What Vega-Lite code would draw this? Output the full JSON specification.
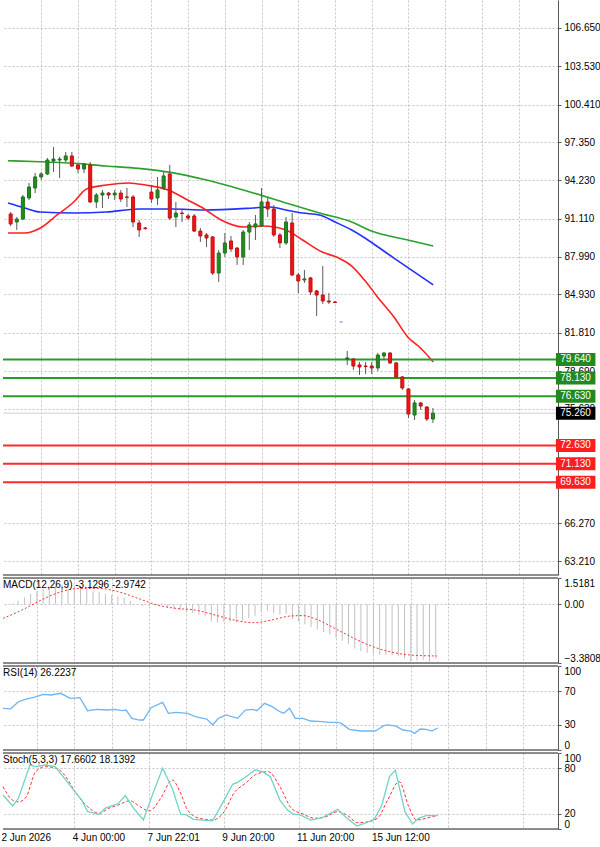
{
  "$schema": "https://vega.github.io/schema/vega-lite/v6.json",
  "padding": 0,
  "background": "#ffffff",
  "spacing": 3,
  "bounds": "flush",
  "datasets": {
    "candles": [
      {"i":0,"o":91.49,"h":91.65,"l":90.51,"c":90.68},
      {"i":1,"o":90.84,"h":91.25,"l":90.19,"c":91.08},
      {"i":2,"o":91.08,"h":93.04,"l":91.00,"c":92.88},
      {"i":3,"o":92.80,"h":94.02,"l":92.63,"c":93.69},
      {"i":4,"o":93.61,"h":94.83,"l":93.20,"c":94.51},
      {"i":5,"o":94.51,"h":94.91,"l":94.26,"c":94.75},
      {"i":6,"o":94.75,"h":96.06,"l":94.67,"c":95.89},
      {"i":7,"o":95.81,"h":96.95,"l":94.91,"c":95.97},
      {"i":8,"o":95.89,"h":96.14,"l":94.42,"c":95.97},
      {"i":9,"o":95.89,"h":96.54,"l":95.73,"c":96.22},
      {"i":10,"o":96.22,"h":96.54,"l":95.32,"c":95.40},
      {"i":11,"o":95.49,"h":95.57,"l":94.83,"c":95.16},
      {"i":12,"o":95.16,"h":95.65,"l":94.83,"c":95.57},
      {"i":13,"o":95.49,"h":95.73,"l":92.39,"c":92.47},
      {"i":14,"o":92.47,"h":93.20,"l":91.98,"c":93.04},
      {"i":15,"o":93.04,"h":93.45,"l":91.98,"c":93.20},
      {"i":16,"o":93.20,"h":93.28,"l":92.71,"c":93.04},
      {"i":17,"o":93.04,"h":93.45,"l":92.63,"c":93.20},
      {"i":18,"o":93.20,"h":93.45,"l":92.47,"c":92.71},
      {"i":19,"o":92.88,"h":93.61,"l":92.06,"c":92.84},
      {"i":20,"o":92.88,"h":93.04,"l":90.43,"c":90.84},
      {"i":21,"o":90.76,"h":91.00,"l":89.62,"c":90.19},
      {"i":22,"o":90.35,"h":90.43,"l":90.19,"c":90.31},
      {"i":23,"o":93.28,"h":93.85,"l":92.39,"c":92.71},
      {"i":24,"o":92.80,"h":94.51,"l":92.22,"c":93.45},
      {"i":25,"o":93.61,"h":94.91,"l":93.45,"c":94.59},
      {"i":26,"o":94.75,"h":95.49,"l":91.00,"c":91.16},
      {"i":27,"o":91.25,"h":92.47,"l":90.43,"c":91.57},
      {"i":28,"o":91.57,"h":91.82,"l":90.84,"c":91.53},
      {"i":29,"o":91.33,"h":91.49,"l":91.00,"c":91.16},
      {"i":30,"o":91.33,"h":91.49,"l":90.02,"c":90.10},
      {"i":31,"o":90.10,"h":90.35,"l":89.21,"c":89.70},
      {"i":32,"o":89.78,"h":89.94,"l":88.80,"c":89.54},
      {"i":33,"o":89.62,"h":89.70,"l":86.52,"c":86.68},
      {"i":34,"o":86.68,"h":88.56,"l":85.95,"c":88.31},
      {"i":35,"o":88.31,"h":89.94,"l":87.99,"c":89.13},
      {"i":36,"o":89.29,"h":89.70,"l":88.39,"c":88.64},
      {"i":37,"o":88.72,"h":88.80,"l":87.34,"c":87.99},
      {"i":38,"o":87.99,"h":90.19,"l":87.34,"c":90.02},
      {"i":39,"o":90.02,"h":90.84,"l":88.56,"c":90.60},
      {"i":40,"o":90.43,"h":91.41,"l":89.37,"c":90.68},
      {"i":41,"o":90.51,"h":93.61,"l":90.43,"c":92.47},
      {"i":42,"o":92.47,"h":92.80,"l":91.25,"c":91.90},
      {"i":43,"o":91.90,"h":92.22,"l":89.62,"c":89.78},
      {"i":44,"o":89.78,"h":89.94,"l":88.72,"c":89.13},
      {"i":45,"o":89.13,"h":91.25,"l":88.97,"c":90.84},
      {"i":46,"o":90.76,"h":91.57,"l":86.44,"c":86.52},
      {"i":47,"o":86.52,"h":86.68,"l":85.05,"c":86.03},
      {"i":48,"o":86.11,"h":86.93,"l":85.87,"c":86.20},
      {"i":49,"o":86.28,"h":86.36,"l":84.89,"c":85.14},
      {"i":50,"o":85.22,"h":85.30,"l":83.18,"c":84.89},
      {"i":51,"o":84.89,"h":87.25,"l":84.16,"c":84.40},
      {"i":52,"o":84.40,"h":85.05,"l":84.16,"c":84.32},
      {"i":53,"o":84.32,"h":84.40,"l":84.24,"c":84.28},
      {"i":55,"o":79.67,"h":80.33,"l":79.19,"c":79.76},
      {"i":56,"o":79.67,"h":79.76,"l":78.78,"c":79.10},
      {"i":57,"o":79.19,"h":79.43,"l":78.37,"c":79.02},
      {"i":58,"o":79.10,"h":79.43,"l":78.45,"c":79.06},
      {"i":59,"o":79.10,"h":79.43,"l":78.45,"c":78.94},
      {"i":60,"o":78.94,"h":80.16,"l":78.70,"c":80.00},
      {"i":61,"o":79.92,"h":80.24,"l":79.59,"c":80.16},
      {"i":62,"o":80.16,"h":80.24,"l":79.27,"c":79.35},
      {"i":63,"o":79.35,"h":79.43,"l":78.13,"c":78.21},
      {"i":64,"o":78.21,"h":78.29,"l":77.15,"c":77.31},
      {"i":65,"o":77.23,"h":77.31,"l":74.86,"c":75.19},
      {"i":66,"o":75.11,"h":76.33,"l":74.70,"c":76.09},
      {"i":67,"o":76.09,"h":76.17,"l":75.52,"c":75.84},
      {"i":68,"o":75.76,"h":75.84,"l":74.62,"c":74.78},
      {"i":69,"o":74.78,"h":75.68,"l":74.46,"c":75.26}
    ],
    "ma": [
      {"ma":"g","i":-0.433,"p":95.83},{"ma":"g","i":4.86,"p":95.75},{"ma":"g","i":10.32,"p":95.62},{"ma":"g","i":15.61,"p":95.40},{"ma":"g","i":20.91,"p":95.21},{"ma":"g","i":26.36,"p":94.86},{"ma":"g","i":31.66,"p":94.30},{"ma":"g","i":39.68,"p":93.20},{"ma":"g","i":44.98,"p":92.39},{"ma":"g","i":50.43,"p":91.57},{"ma":"g","i":55.73,"p":90.84},{"ma":"g","i":58.94,"p":90.10},{"ma":"g","i":64.9,"p":89.37},{"ma":"g","i":69.05,"p":88.88},
      {"ma":"b","i":-0.433,"p":92.39},{"ma":"b","i":2.29,"p":91.98},{"ma":"b","i":4.86,"p":91.65},{"ma":"b","i":10.32,"p":91.57},{"ma":"b","i":15.61,"p":91.65},{"ma":"b","i":20.91,"p":91.90},{"ma":"b","i":26.36,"p":91.90},{"ma":"b","i":31.66,"p":91.82},{"ma":"b","i":39.68,"p":91.98},{"ma":"b","i":42.41,"p":92.06},{"ma":"b","i":44.98,"p":91.82},{"ma":"b","i":47.7,"p":91.57},{"ma":"b","i":50.43,"p":91.41},{"ma":"b","i":53.0,"p":90.84},{"ma":"b","i":55.73,"p":90.19},{"ma":"b","i":62.63,"p":87.90},{"ma":"b","i":69.05,"p":85.71},
      {"ma":"r","i":-0.433,"p":89.94},{"ma":"r","i":2.29,"p":89.94},{"ma":"r","i":4.86,"p":90.35},{"ma":"r","i":7.59,"p":91.41},{"ma":"r","i":10.32,"p":92.47},{"ma":"r","i":12.4,"p":93.53},{"ma":"r","i":15.61,"p":93.85},{"ma":"r","i":19.3,"p":94.02},{"ma":"r","i":22.03,"p":93.85},{"ma":"r","i":25.72,"p":93.45},{"ma":"r","i":28.93,"p":92.63},{"ma":"r","i":31.66,"p":91.90},{"ma":"r","i":34.39,"p":91.00},{"ma":"r","i":38.08,"p":90.43},{"ma":"r","i":41.29,"p":90.51},{"ma":"r","i":44.98,"p":90.19},{"ma":"r","i":47.7,"p":89.37},{"ma":"r","i":50.91,"p":88.39},{"ma":"r","i":53.64,"p":87.90},{"ma":"r","i":55.73,"p":87.25},{"ma":"r","i":57.82,"p":86.11},{"ma":"r","i":60.06,"p":84.65},{"ma":"r","i":62.63,"p":83.10},{"ma":"r","i":64.88,"p":81.47},{"ma":"r","i":66.97,"p":80.57},{"ma":"r","i":69.05,"p":79.43}
    ],
    "levels": [
      {"p":79.64,"k":"g"},{"p":78.13,"k":"g"},{"p":76.63,"k":"g"},
      {"p":72.63,"k":"r"},{"p":71.13,"k":"r"},{"p":69.63,"k":"r"}
    ],
    "tags": [
      {"p":79.64,"k":"g"},{"p":78.13,"k":"g"},{"p":76.63,"k":"g"},{"p":75.26,"k":"b"},
      {"p":72.63,"k":"r"},{"p":71.13,"k":"r"},{"p":69.63,"k":"r"}
    ],
    "bid": [{"p":75.26}],
    "blip": [{"i":54,"p":82.69}],
    "macd": [
      {"i":0,"m":-0.05},{"i":1,"m":0.05},{"i":2,"m":0.2},{"i":3,"m":0.4},{"i":4,"m":0.6},{"i":5,"m":0.75},{"i":6,"m":0.9},{"i":7,"m":1.0},{"i":8,"m":1.05},{"i":9,"m":1.1},
      {"i":10,"m":1.1},{"i":11,"m":1.05},{"i":12,"m":1.05},{"i":13,"m":0.85},{"i":14,"m":0.75},{"i":15,"m":0.7},{"i":16,"m":0.6},{"i":17,"m":0.55},{"i":18,"m":0.45},{"i":19,"m":0.4},
      {"i":20,"m":0.2},{"i":21,"m":0.0},{"i":22,"m":-0.1},{"i":23,"m":-0.1},{"i":24,"m":-0.05},{"i":25,"m":0.05},{"i":26,"m":-0.2},{"i":27,"m":-0.3},{"i":28,"m":-0.35},{"i":29,"m":-0.4},
      {"i":30,"m":-0.5},{"i":31,"m":-0.6},{"i":32,"m":-0.7},{"i":33,"m":-1.0},{"i":34,"m":-1.05},{"i":35,"m":-1.0},{"i":36,"m":-1.0},{"i":37,"m":-1.05},{"i":38,"m":-0.95},{"i":39,"m":-0.8},
      {"i":40,"m":-0.65},{"i":41,"m":-0.4},{"i":42,"m":-0.35},{"i":43,"m":-0.5},{"i":44,"m":-0.6},{"i":45,"m":-0.55},{"i":46,"m":-0.85},{"i":47,"m":-1.0},{"i":48,"m":-1.15},{"i":49,"m":-1.3},
      {"i":50,"m":-1.45},{"i":51,"m":-1.6},{"i":52,"m":-1.75},{"i":53,"m":-1.95},{"i":54,"m":-2.1},{"i":55,"m":-2.3},{"i":56,"m":-2.55},{"i":57,"m":-2.7},{"i":58,"m":-2.8},{"i":59,"m":-2.85},
      {"i":60,"m":-2.9},{"i":61,"m":-2.9},{"i":62,"m":-2.95},{"i":63,"m":-3.0},{"i":64,"m":-3.1},{"i":65,"m":-3.3},{"i":66,"m":-3.25},{"i":67,"m":-3.2},{"i":68,"m":-3.3},{"i":69,"m":-3.1296}
    ],
    "signal": [
      {"i":-0.433,"s":-0.81},{"i":2.6,"s":-0.33},{"i":5.7,"s":0.25},{"i":8.9,"s":0.73},{"i":11.9,"s":0.92},{"i":15.0,"s":0.92},{"i":18.0,"s":0.73},{"i":21.2,"s":0.35},{"i":24.3,"s":-0.04},{"i":27.3,"s":-0.23},{"i":30.4,"s":-0.33},{"i":33.6,"s":-0.62},{"i":36.6,"s":-0.9},{"i":39.7,"s":-1.06},{"i":42.7,"s":-0.9},{"i":45.8,"s":-0.67},{"i":47.7,"s":-0.65},{"i":50.1,"s":-0.9},{"i":53.3,"s":-1.48},{"i":56.4,"s":-2.05},{"i":59.4,"s":-2.5},{"i":62.5,"s":-2.8},{"i":66.2,"s":-2.95},{"i":69.2,"s":-2.9742}
    ],
    "rsi": [
      {"i":-0.433,"v":49.6},{"i":0.8,"v":49.0},{"i":2.04,"v":57.5},{"i":3.27,"v":60.7},{"i":4.51,"v":62.7},{"i":6.05,"v":66.3},{"i":7.28,"v":65.5},{"i":8.82,"v":67.5},{"i":10.37,"v":61.5},{"i":11.91,"v":62.3},{"i":13.14,"v":46.8},{"i":14.68,"v":48.4},{"i":16.23,"v":47.6},{"i":17.46,"v":48.4},{"i":18.7,"v":46.8},{"i":19.32,"v":47.6},{"i":20.24,"v":37.7},{"i":21.47,"v":35.7},{"i":22.09,"v":35.7},{"i":23.33,"v":50.4},{"i":25.18,"v":56.7},{"i":26.1,"v":43.7},{"i":27.34,"v":44.8},{"i":29.19,"v":43.7},{"i":30.42,"v":39.7},{"i":32.27,"v":36.9},{"i":33.2,"v":29.8},{"i":34.13,"v":37.7},{"i":35.37,"v":41.7},{"i":37.21,"v":37.7},{"i":38.45,"v":47.6},{"i":39.68,"v":48.4},{"i":40.3,"v":46.8},{"i":41.53,"v":55.6},{"i":42.76,"v":51.6},{"i":44.0,"v":45.6},{"i":44.62,"v":43.7},{"i":45.54,"v":49.6},{"i":46.47,"v":37.7},{"i":47.7,"v":37.7},{"i":48.94,"v":34.5},{"i":50.79,"v":33.7},{"i":52.02,"v":32.9},{"i":53.26,"v":32.9},{"i":53.88,"v":31.7},{"i":55.12,"v":24.6},{"i":56.96,"v":22.6},{"i":58.81,"v":22.6},{"i":59.43,"v":23.0},{"i":60.67,"v":29.0},{"i":61.28,"v":29.8},{"i":62.52,"v":28.6},{"i":63.75,"v":23.8},{"i":64.99,"v":22.6},{"i":65.6,"v":19.8},{"i":66.53,"v":25.0},{"i":67.46,"v":24.6},{"i":68.38,"v":22.6},{"i":69.3,"v":26.2237}
    ],
    "stoch": [
      {"i":-0.433,"v":44.7},{"i":1.11,"v":30.3},{"i":2.04,"v":40.4},{"i":3.89,"v":84.2},{"i":4.81,"v":82.0},{"i":6.35,"v":84.2},{"i":7.9,"v":82.0},{"i":9.44,"v":66.7},{"i":11.3,"v":47.0},{"i":12.22,"v":38.0},{"i":13.14,"v":22.8},{"i":15.0,"v":19.3},{"i":15.92,"v":27.2},{"i":17.46,"v":31.6},{"i":18.08,"v":33.8},{"i":19.19,"v":43.9},{"i":20.55,"v":27.2},{"i":22.09,"v":11.8},{"i":23.64,"v":47.0},{"i":25.18,"v":79.8},{"i":26.72,"v":53.5},{"i":28.08,"v":19.3},{"i":28.88,"v":19.3},{"i":30.12,"v":12.7},{"i":31.66,"v":11.8},{"i":33.2,"v":10.9},{"i":35.06,"v":38.0},{"i":36.41,"v":58.8},{"i":37.21,"v":61.4},{"i":38.45,"v":68.0},{"i":39.99,"v":77.6},{"i":41.22,"v":75.4},{"i":42.46,"v":68.9},{"i":44.0,"v":38.0},{"i":45.23,"v":24.9},{"i":46.16,"v":19.3},{"i":47.09,"v":19.3},{"i":48.94,"v":11.8},{"i":50.79,"v":14.9},{"i":52.65,"v":22.8},{"i":53.26,"v":25.9},{"i":54.49,"v":16.2},{"i":56.34,"v":3.9},{"i":57.57,"v":7.5},{"i":59.13,"v":12.7},{"i":60.36,"v":31.6},{"i":61.59,"v":68.9},{"i":62.52,"v":77.6},{"i":64.06,"v":22.8},{"i":65.29,"v":6.6},{"i":66.22,"v":14.1},{"i":67.46,"v":17.5},{"i":69.3,"v":17.66}
    ],
    "stochsig": [
      {"i":-0.433,"v":55.7},{"i":1.11,"v":38.0},{"i":2.04,"v":35.7},{"i":3.27,"v":42.1},{"i":4.81,"v":75.4},{"i":6.35,"v":82.0},{"i":8.21,"v":79.8},{"i":9.44,"v":71.0},{"i":11.3,"v":47.0},{"i":13.14,"v":29.4},{"i":15.0,"v":20.6},{"i":16.54,"v":27.2},{"i":18.08,"v":31.6},{"i":19.93,"v":37.3},{"i":21.17,"v":31.6},{"i":23.02,"v":23.7},{"i":24.87,"v":40.4},{"i":26.72,"v":64.5},{"i":27.96,"v":49.1},{"i":29.19,"v":25.0},{"i":31.04,"v":14.1},{"i":33.2,"v":11.8},{"i":35.06,"v":22.8},{"i":36.6,"v":47.0},{"i":38.45,"v":60.1},{"i":40.3,"v":72.4},{"i":42.15,"v":75.4},{"i":44.0,"v":55.7},{"i":45.85,"v":27.2},{"i":47.7,"v":19.7},{"i":49.56,"v":14.1},{"i":51.41,"v":16.2},{"i":53.26,"v":22.8},{"i":55.12,"v":16.2},{"i":56.34,"v":8.3},{"i":58.2,"v":9.6},{"i":59.74,"v":14.9},{"i":61.28,"v":38.0},{"i":63.14,"v":62.3},{"i":64.68,"v":29.4},{"i":65.91,"v":11.8},{"i":67.46,"v":14.1},{"i":69.3,"v":18.14}
    ]
  },
  "vconcat": [
    {
      "width": 555,
      "height": 575,
      "layer": [
        {
          "data": {"name": "ma"},
          "transform": [{"filter": "datum.ma=='g'"}],
          "mark": {"type": "line", "color": "#2ca02c", "strokeWidth": 1.6, "interpolate": "monotone"},
          "encoding": {
            "x": {"field": "i", "type": "quantitative", "scale": {"domain": [-0.433, 88.62], "nice": false, "zero": false},
                  "axis": {"values": [5,11,17,23,29,35,41,47,53,59,65,71,77,83], "labels": false, "ticks": false, "domain": false, "grid": true, "title": null}},
            "y": {"field": "p", "type": "quantitative", "scale": {"domain": [62.07, 108.93], "nice": false, "zero": false},
                  "axis": {"orient": "right", "values": [106.65,103.53,100.41,97.35,94.23,91.11,87.99,84.93,81.81,78.69,75.63,66.27,63.21], "format": ".3f", "grid": true, "tickSize": 3, "labelPadding": 3, "labelOverlap": false, "title": null}}
          }
        },
        {
          "data": {"name": "ma"},
          "transform": [{"filter": "datum.ma=='b'"}],
          "mark": {"type": "line", "color": "#2030ff", "strokeWidth": 1.6, "interpolate": "monotone"},
          "encoding": {"x": {"field": "i", "type": "quantitative"}, "y": {"field": "p", "type": "quantitative"}}
        },
        {
          "data": {"name": "ma"},
          "transform": [{"filter": "datum.ma=='r'"}],
          "mark": {"type": "line", "color": "#ff2020", "strokeWidth": 1.6, "interpolate": "monotone"},
          "encoding": {"x": {"field": "i", "type": "quantitative"}, "y": {"field": "p", "type": "quantitative"}}
        },
        {
          "data": {"name": "bid"},
          "mark": {"type": "rule", "color": "#cfcfcf", "strokeWidth": 1},
          "encoding": {"y": {"field": "p", "type": "quantitative"}}
        },
        {
          "data": {"name": "levels"},
          "mark": {"type": "rule", "strokeWidth": 2},
          "encoding": {
            "y": {"field": "p", "type": "quantitative"},
            "color": {"condition": {"test": "datum.k=='g'", "value": "#2a9a2a"}, "value": "#ff2a2a"}
          }
        },
        {
          "data": {"name": "candles"},
          "mark": {"type": "rule", "color": "#5a5a5a", "strokeWidth": 1},
          "encoding": {
            "x": {"field": "i", "type": "quantitative"},
            "y": {"field": "l", "type": "quantitative"},
            "y2": {"field": "h"}
          }
        },
        {
          "data": {"name": "candles"},
          "mark": {"type": "bar", "size": 3, "strokeWidth": 1},
          "encoding": {
            "x": {"field": "i", "type": "quantitative"},
            "y": {"field": "o", "type": "quantitative"},
            "y2": {"field": "c"},
            "fill": {"condition": {"test": "datum.c >= datum.o", "value": "#1f8f1f"}, "value": "#f01414"},
            "stroke": {"condition": {"test": "datum.c >= datum.o", "value": "#1f6f1f"}, "value": "#c01010"}
          }
        },
        {
          "data": {"name": "blip"},
          "mark": {"type": "tick", "orient": "horizontal", "size": 3, "thickness": 1, "color": "#2040ff"},
          "encoding": {
            "x": {"field": "i", "type": "quantitative"},
            "y": {"field": "p", "type": "quantitative"}
          }
        },
        {
          "data": {"values": [{"b": 62.07}]},
          "mark": {"type": "rule", "color": "#6a6a6a", "strokeWidth": 1.5},
          "encoding": {"y": {"field": "b", "type": "quantitative"}}
        },
        {
          "data": {"name": "tags"},
          "mark": {"type": "rect", "height": 13},
          "encoding": {
            "x": {"datum": 89.1, "type": "quantitative"},
            "x2": {"datum": 95.55},
            "y": {"field": "p", "type": "quantitative"},
            "color": {"condition": [{"test": "datum.k=='g'", "value": "#23891f"}, {"test": "datum.k=='b'", "value": "#000000"}], "value": "#ff1e1e"}
          }
        },
        {
          "data": {"name": "tags"},
          "mark": {"type": "text", "font": "Liberation Sans", "fontSize": 10, "align": "center", "baseline": "middle", "color": "#ffffff"},
          "encoding": {
            "x": {"datum": 92.3, "type": "quantitative"},
            "y": {"field": "p", "type": "quantitative"},
            "text": {"field": "p", "type": "quantitative", "format": ".3f"}
          }
        }
      ]
    },
    {
      "width": 555,
      "height": 85,
      "layer": [
        {
          "data": {"name": "macd"},
          "mark": {"type": "rule", "color": "#c0c0c0", "strokeWidth": 1},
          "encoding": {
            "x": {"field": "i", "type": "quantitative", "scale": {"domain": [-0.433, 88.62], "nice": false, "zero": false},
                  "axis": {"values": [5,11,17,23,29,35,41,47,53,59,65,71,77,83], "labels": false, "ticks": false, "domain": false, "grid": true, "title": null}},
            "y": {"field": "m", "type": "quantitative", "scale": {"domain": [-3.3808, 1.5181], "nice": false, "zero": false},
                  "axis": {"orient": "right", "values": [1.5181, 0, -3.3808], "labelExpr": "datum.value == 0 ? '0.00' : format(datum.value, '.4f')", "labelFlush": true, "labelOverlap": false, "grid": true, "tickSize": 3, "labelPadding": 3, "title": null}},
            "y2": {"datum": 0}
          }
        },
        {
          "data": {"name": "signal"},
          "mark": {"type": "line", "color": "#ff3030", "strokeWidth": 1, "strokeDash": [2, 2], "interpolate": "monotone"},
          "encoding": {"x": {"field": "i", "type": "quantitative"}, "y": {"field": "s", "type": "quantitative"}}
        },
        {
          "data": {"values": [{"t": "MACD(12,26,9) -3.1296 -2.9742", "x": -0.433, "y": 1.5181}]},
          "mark": {"type": "text", "font": "Liberation Sans", "fontSize": 10, "align": "left", "baseline": "top", "dy": 2, "color": "#000000"},
          "encoding": {"x": {"field": "x", "type": "quantitative"}, "y": {"field": "y", "type": "quantitative"}, "text": {"field": "t"}}
        },
        {
          "data": {"values": [{"b": 1.5181}, {"b": -3.3808}]},
          "mark": {"type": "rule", "color": "#6a6a6a", "strokeWidth": 1.5},
          "encoding": {"y": {"field": "b", "type": "quantitative"}}
        }
      ]
    },
    {
      "width": 555,
      "height": 84,
      "layer": [
        {
          "data": {"name": "rsi"},
          "mark": {"type": "line", "color": "#6fb4f5", "strokeWidth": 1.3},
          "encoding": {
            "x": {"field": "i", "type": "quantitative", "scale": {"domain": [-0.433, 88.62], "nice": false, "zero": false},
                  "axis": {"values": [5,11,17,23,29,35,41,47,53,59,65,71,77,83], "labels": false, "ticks": false, "domain": false, "grid": true, "title": null}},
            "y": {"field": "v", "type": "quantitative", "scale": {"domain": [0, 100], "nice": false, "zero": false},
                  "axis": {"orient": "right", "values": [100, 70, 30, 0], "labelExpr": "format(datum.value, 'd')", "labelFlush": true, "labelOverlap": false, "grid": true, "tickSize": 3, "labelPadding": 3, "title": null}}
          }
        },
        {
          "data": {"values": [{"t": "RSI(14) 26.2237", "x": -0.433, "y": 100}]},
          "mark": {"type": "text", "font": "Liberation Sans", "fontSize": 10, "align": "left", "baseline": "top", "dy": 2, "color": "#000000"},
          "encoding": {"x": {"field": "x", "type": "quantitative"},
                       "y": {"field": "y", "type": "quantitative", "axis": {"orient": "right", "values": [100, 70, 30, 0], "labelExpr": "format(datum.value, 'd')", "labelFlush": true, "labelOverlap": false, "grid": true, "tickSize": 3, "labelPadding": 3, "title": null}},
                       "text": {"field": "t"}}
        },
        {
          "data": {"values": [{"b": 100}, {"b": 0}]},
          "mark": {"type": "rule", "color": "#6a6a6a", "strokeWidth": 1.5},
          "encoding": {"y": {"field": "b", "type": "quantitative", "axis": {"orient": "right", "values": [100, 70, 30, 0], "labelExpr": "format(datum.value, 'd')", "labelFlush": true, "labelOverlap": false, "grid": true, "tickSize": 3, "labelPadding": 3, "title": null}}}
        }
      ]
    },
    {
      "width": 555,
      "height": 76,
      "layer": [
        {
          "data": {"name": "stochsig"},
          "mark": {"type": "line", "color": "#ff3030", "strokeWidth": 1, "strokeDash": [3, 2], "interpolate": "monotone"},
          "encoding": {
            "x": {"field": "i", "type": "quantitative", "scale": {"domain": [-0.433, 88.62], "nice": false, "zero": false},
                  "axis": {"values": [-0.433,5,11,17,23,29,35,41,47,53,59,65,71,77,83], "labelExpr": "datum.value < 0 ? '2 Jun 2026' : datum.value == 11 ? '4 Jun 00:00' : datum.value == 23 ? '7 Jun 22:01' : datum.value == 35 ? '9 Jun 20:00' : datum.value == 47 ? '11 Jun 20:00' : datum.value == 59 ? '15 Jun 12:00' : ''",
                           "labelAlign": "left", "labelPadding": 3, "labelOffset": -2, "labelBound": false, "labelOverlap": false, "labelFlush": false, "ticks": false, "domain": false, "grid": true,
                           "gridOpacity": {"condition": {"test": "datum.value < 0", "value": 0}, "value": 1}, "title": null}},
            "y": {"field": "v", "type": "quantitative", "scale": {"domain": [0, 100], "nice": false, "zero": false},
                  "axis": {"orient": "right", "values": [100, 80, 20, 0], "labelExpr": "format(datum.value, 'd')", "labelFlush": true, "labelOverlap": false, "grid": true, "tickSize": 3, "labelPadding": 3, "title": null}}
          }
        },
        {
          "data": {"name": "stoch"},
          "mark": {"type": "line", "color": "#6fd3c9", "strokeWidth": 1.3},
          "encoding": {"x": {"field": "i", "type": "quantitative"},
                       "y": {"field": "v", "type": "quantitative", "axis": {"orient": "right", "values": [100, 80, 20, 0], "labelExpr": "format(datum.value, 'd')", "labelFlush": true, "labelOverlap": false, "grid": true, "tickSize": 3, "labelPadding": 3, "title": null}}}
        },
        {
          "data": {"values": [{"t": "Stoch(5,3,3) 17.6602 18.1392", "x": -0.433, "y": 100}]},
          "mark": {"type": "text", "font": "Liberation Sans", "fontSize": 10, "align": "left", "baseline": "top", "dy": 2, "color": "#000000"},
          "encoding": {"x": {"field": "x", "type": "quantitative"},
                       "y": {"field": "y", "type": "quantitative", "axis": {"orient": "right", "values": [100, 80, 20, 0], "labelExpr": "format(datum.value, 'd')", "labelFlush": true, "labelOverlap": false, "grid": true, "tickSize": 3, "labelPadding": 3, "title": null}},
                       "text": {"field": "t"}}
        },
        {
          "data": {"values": [{"b": 100}, {"b": 0}]},
          "mark": {"type": "rule", "color": "#6a6a6a", "strokeWidth": 1.5},
          "encoding": {"y": {"field": "b", "type": "quantitative", "axis": {"orient": "right", "values": [100, 80, 20, 0], "labelExpr": "format(datum.value, 'd')", "labelFlush": true, "labelOverlap": false, "grid": true, "tickSize": 3, "labelPadding": 3, "title": null}}}
        }
      ]
    }
  ],
  "config": {
    "view": {"stroke": null},
    "axis": {
      "labelFont": "Liberation Sans",
      "labelFontSize": 10,
      "labelColor": "#000000",
      "domainColor": "#555555",
      "tickColor": "#555555",
      "gridColor": "#c4c4c4",
      "gridDash": [2, 2],
      "gridWidth": 1
    },
    "text": {"font": "Liberation Sans"}
  }
}
